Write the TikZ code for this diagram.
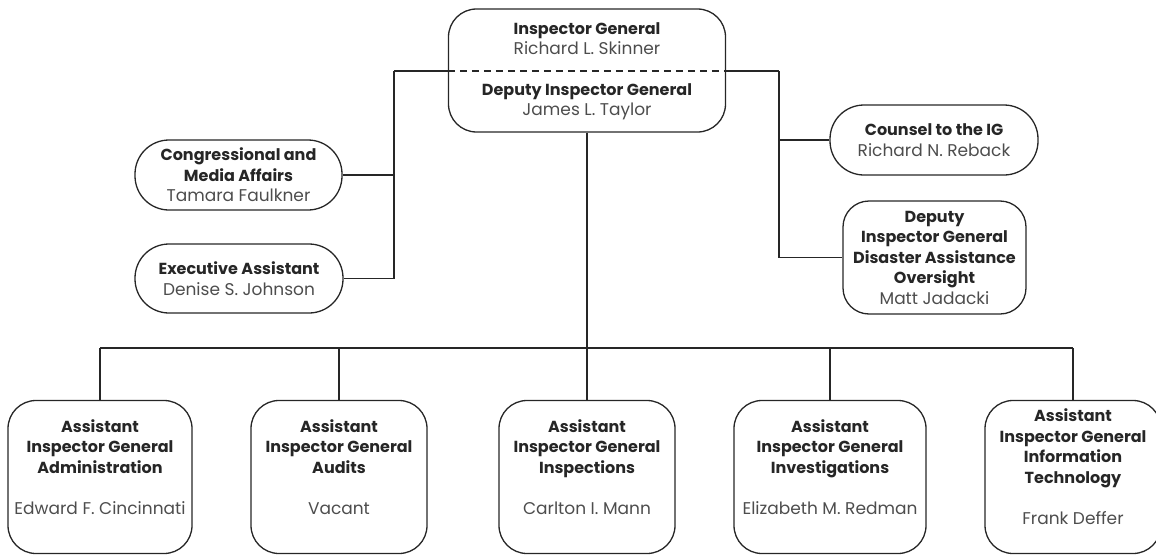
\documentclass[tikz,border=0pt]{standalone}
\usepackage{fontspec}
\setmainfont{Poppins}
\usetikzlibrary{positioning}

\definecolor{inkgray}{HTML}{262626}
\definecolor{namegray}{HTML}{4D4D4D}

\newcommand{\who}[1]{{\fontsize{17}{20.5}\selectfont\color{namegray}#1}}

\tikzset{
    orgline/.style={draw=inkgray, line width=1.3pt},
    orgbox/.style={orgline, align=center, inner sep=0pt, text=inkgray},
    pillbox/.style={orgbox, minimum height=70pt, rounded corners=34pt},
    aigbox/.style={orgbox, minimum height=153pt, rounded corners=28pt}
}

\begin{document}
\begin{tikzpicture}[x=1pt, y=-1pt, font=\fontsize{16}{20.5}\selectfont]
    \useasboundingbox (0,0) rectangle (1156,554);

    % front office
    \node[orgbox, minimum width=277pt, minimum height=123pt, rounded corners=28pt] (ig) at (587,70.5) {};
    \node[text=inkgray, align=center] (igtxt) at (587,38.5) {\textbf{Inspector General}\\\who{Richard L. Skinner}};
    \node[text=inkgray, align=center] (digtxt) at (587,102) {\textbf{Deputy Inspector General}\\\who{James L. Taylor}};

    \node[pillbox, minimum width=207pt] (cma) at (238.5,175) {\textbf{Congressional and}\\\textbf{Media Affairs}\\\who{Tamara Faulkner}};
    \node[pillbox, minimum width=208pt, minimum height=69pt] (ea) at (239,278.5) {\textbf{Executive Assistant}\\\who{Denise S. Johnson}};
    \node[pillbox, minimum width=208pt] (counsel) at (934,140) {\textbf{Counsel to the IG}\\\who{Richard N. Reback}};
    \node[orgbox, minimum width=183pt, minimum height=113pt, rounded corners=26pt] (dao) at (934.5,257.5) {\textbf{Deputy}\\\textbf{Inspector General}\\\textbf{Disaster Assistance}\\\textbf{Oversight}\\\who{Matt Jadacki}};

    % assistant IGs
    \node[aigbox, minimum width=184pt] (aigA) at (100,477) {\textbf{Assistant}\\\textbf{Inspector General}\\\textbf{Administration}\\[20.5pt]\who{Edward F. Cincinnati}\\ \phantom{X}};
    \node[aigbox, minimum width=176pt] (aigB) at (339,477) {\textbf{Assistant}\\\textbf{Inspector General}\\\textbf{Audits}\\[20.5pt]\who{Vacant}\\ \phantom{X}};
    \node[aigbox, minimum width=176pt] (aigC) at (587,477) {\textbf{Assistant}\\\textbf{Inspector General}\\\textbf{Inspections}\\[20.5pt]\who{Carlton I. Mann}\\ \phantom{X}};
    \node[aigbox, minimum width=192pt] (aigD) at (830,477) {\textbf{Assistant}\\\textbf{Inspector General}\\\textbf{Investigations}\\[20.5pt]\who{Elizabeth M. Redman}\\ \phantom{X}};
    \node[aigbox, minimum width=176pt] (aigE) at (1073,477) {\textbf{Assistant}\\\textbf{Inspector General}\\\textbf{Information}\\\textbf{Technology}\\[20.5pt]\who{Frank Deffer}\\ \phantom{X}};

    \coordinate (lbus) at (394,71);
    \coordinate (rbus) at (779,71);
    \coordinate (bus) at (587,348);

    % connectors
    \draw[orgline] (lbus) -- (lbus -| ig.west);
    \draw[orgline, dashed, dash pattern=on 7pt off 5pt] (lbus -| ig.west) -- (rbus -| ig.east);
    \draw[orgline] (rbus -| ig.east) -- (rbus);
    \draw[orgline] (lbus) -- (lbus |- ea.east) -- (ea.east);
    \draw[orgline] (cma.east) -- (cma.east -| lbus);
    \draw[orgline] (rbus) -- (rbus |- dao.west) -- (dao.west);
    \draw[orgline] (counsel.west) -- (counsel.west -| rbus);

    \draw[orgline] (ig.south) -- (bus);
    \draw[orgline] (bus -| aigA.north) -- (bus -| aigE.north);
    \foreach \n in {aigA, aigB, aigC, aigD, aigE}
        \draw[orgline] (\n.north) -- (bus -| \n.north);
\end{tikzpicture}
\end{document}
